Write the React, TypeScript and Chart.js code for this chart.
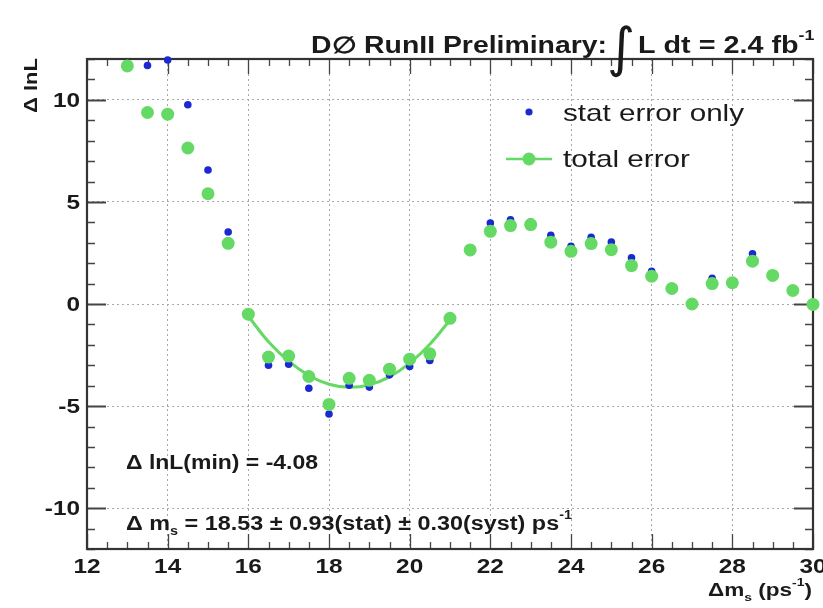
import React, { useEffect, useRef } from "react";
import { Chart, registerables } from "chart.js";

Chart.register(...registerables);

// ---- data ----
const massValues = [13, 13.5, 14, 14.5, 15, 15.5, 16, 16.5, 17, 17.5, 18, 18.5, 19, 19.5, 20, 20.5, 21, 21.5, 22, 22.5, 23, 23.5, 24, 24.5, 25, 25.5, 26, 26.5, 27, 27.5, 28, 28.5, 29, 29.5, 30];
const statErrorOnly = [11.66, 11.68, 11.95, 9.76, 6.56, 3.53, -0.5, -3.0, -2.95, -4.13, -5.39, -3.98, -4.07, -3.47, -3.06, -2.77, -0.72, 2.72, 3.97, 4.12, 4.02, 3.36, 2.83, 3.27, 3.04, 2.26, 1.6, 0.8, 0.03, 1.26, 1.1, 2.46, 1.48, 0.72, 0.0];
const totalError = [11.66, 9.38, 9.3, 7.64, 5.4, 2.97, -0.5, -2.6, -2.55, -3.55, -4.92, -3.64, -3.74, -3.19, -2.7, -2.44, -0.7, 2.65, 3.56, 3.84, 3.89, 3.03, 2.58, 2.96, 2.66, 1.88, 1.36, 0.76, 0.0, 1.0, 1.04, 2.1, 1.4, 0.66, -0.02];
const fitMass = [16, 16.5, 17, 17.5, 18, 18.5, 19, 19.5, 20, 20.5, 21];
const fitValues = [-0.6, -1.85, -2.8, -3.5, -3.93, -4.08, -3.96, -3.57, -2.9, -1.97, -0.78];
const xTicks = [12, 14, 16, 18, 20, 22, 24, 26, 28, 30];
const yTicks = [-10, -5, 0, 5, 10];
const xRange = [12, 30];
const yRange = [-12, 12];

const GREEN = "#64da64";
const BLUE = "#1a2ad0";
const FONT = '"Liberation Sans", Arial, Helvetica, sans-serif';
const SX = 1.25;

type Seg = [string, "n" | "sub" | "sup"];

function drawRich(
  ctx: CanvasRenderingContext2D,
  segs: Seg[],
  x: number,
  y: number,
  size: number,
  weight: string,
  opts: { align?: "left" | "right" | "center"; width?: number; sx?: number; color?: string } = {}
) {
  ctx.save();
  const parts = segs.map(([t, k]) => {
    const s = k === "n" ? size : size * 0.62;
    ctx.font = `${weight} ${s}px ${FONT}`;
    return { t, k, s, w: ctx.measureText(t).width };
  });
  const natural = parts.reduce((a, p) => a + p.w, 0);
  const sx = opts.width ? opts.width / natural : opts.sx ?? SX;
  const total = natural * sx;
  const align = opts.align ?? "left";
  const x0 = align === "left" ? x : align === "right" ? x - total : x - total / 2;
  ctx.translate(x0, y);
  ctx.scale(sx, 1);
  ctx.fillStyle = opts.color ?? "#1a1a1a";
  ctx.textAlign = "left";
  ctx.textBaseline = "alphabetic";
  let cx = 0;
  for (const p of parts) {
    ctx.font = `${weight} ${p.s}px ${FONT}`;
    const dy = p.k === "sub" ? size * 0.25 : p.k === "sup" ? -size * 0.55 : 0;
    ctx.fillText(p.t, cx, dy);
    cx += p.w;
  }
  ctx.restore();
}

const overlayPlugin = {
  id: "rootOverlay",
  beforeDatasetsDraw(chart: any) {
    const ctx: CanvasRenderingContext2D = chart.ctx;
    const { left, right, top, bottom } = chart.chartArea;
    const xs = chart.scales.x;
    const ys = chart.scales.y;
    ctx.save();
    ctx.strokeStyle = "#444";
    for (let v = xRange[0]; v <= xRange[1] + 1e-9; v += 0.5) {
      const px = Math.round(xs.getPixelForValue(v)) + 0.5;
      const major = Math.abs(v / 2 - Math.round(v / 2)) < 1e-9;
      const len = major ? 15 : 7;
      ctx.lineWidth = 1.3;
      ctx.beginPath();
      ctx.moveTo(px, bottom);
      ctx.lineTo(px, bottom - len);
      ctx.moveTo(px, top);
      ctx.lineTo(px, top + len);
      ctx.stroke();
    }
    for (let v = yRange[0]; v <= yRange[1] + 1e-9; v += 1) {
      const py = Math.round(ys.getPixelForValue(v)) + 0.5;
      const major = Math.abs(v / 5 - Math.round(v / 5)) < 1e-9;
      const len = major ? 19 : 8;
      ctx.lineWidth = major ? 2 : 1.3;
      ctx.beginPath();
      ctx.moveTo(left, py);
      ctx.lineTo(left + len, py);
      ctx.moveTo(right, py);
      ctx.lineTo(right - len, py);
      ctx.stroke();
    }
    ctx.lineWidth = 2.2;
    ctx.strokeStyle = "#333";
    ctx.strokeRect(left, top, right - left, bottom - top);
    ctx.restore();
  },
  afterDraw(chart: any) {
    const ctx: CanvasRenderingContext2D = chart.ctx;
    const xs = chart.scales.x;
    const ys = chart.scales.y;
    const { left, bottom } = chart.chartArea;

    for (const v of xTicks) {
      drawRich(ctx, [[String(v), "n"]], xs.getPixelForValue(v), bottom + 24, 19.5, "bold", { align: "center" });
    }
    for (const v of yTicks) {
      drawRich(ctx, [[String(v), "n"]], left - 7, ys.getPixelForValue(v) + 7, 19.5, "bold", { align: "right" });
    }

    // title
    drawRich(ctx, [["D\u2205 RunII Preliminary:", "n"]], 311, 53, 23, "bold", { width: 296 });
    ctx.save();
    ctx.font = `normal 54px "DejaVu Sans", ${FONT}`;
    ctx.fillStyle = "#1a1a1a";
    ctx.textBaseline = "alphabetic";
    ctx.fillText("\u222B", 607, 66);
    ctx.restore();
    drawRich(ctx, [["L dt = 2.4 fb", "n"], ["-1", "sup"]], 638, 53, 23, "bold", { sx: SX });

    // axis titles
    drawRich(ctx, [["\u0394m", "n"], ["s", "sub"], [" (ps", "n"], ["-1", "sup"], [")", "n"]], 812, 596, 19, "bold", { align: "right", width: 104 });
    ctx.save();
    ctx.translate(37, 113);
    ctx.rotate(-Math.PI / 2);
    drawRich(ctx, [["\u0394 lnL", "n"]], 0, 0, 18, "bold", { width: 55 });
    ctx.restore();

    // annotations
    drawRich(ctx, [["\u0394 lnL(min) = -4.08", "n"]], 126, 469, 19.5, "bold", { width: 192 });
    drawRich(
      ctx,
      [["\u0394 m", "n"], ["s", "sub"], [" = 18.53 \u00B1 0.93(stat) \u00B1 0.30(syst) ps", "n"], ["-1", "sup"]],
      126,
      530,
      19.5,
      "bold",
      { width: 446 }
    );

    // legend
    ctx.save();
    ctx.fillStyle = BLUE;
    ctx.beginPath();
    ctx.arc(529, 112, 3.6, 0, Math.PI * 2);
    ctx.fill();
    ctx.strokeStyle = GREEN;
    ctx.lineWidth = 2.5;
    ctx.beginPath();
    ctx.moveTo(506, 159);
    ctx.lineTo(552, 159);
    ctx.stroke();
    ctx.fillStyle = GREEN;
    ctx.beginPath();
    ctx.arc(529, 159, 6.5, 0, Math.PI * 2);
    ctx.fill();
    ctx.restore();
    drawRich(ctx, [["stat error only", "n"]], 563, 121, 24, "normal", { width: 181 });
    drawRich(ctx, [["total error", "n"]], 563, 167, 24, "normal", { width: 127 });
  },
};

export default function App() {
  const ref = useRef<HTMLCanvasElement | null>(null);
  useEffect(() => {
    if (!ref.current) return;
    const chart = new Chart(ref.current, {
      type: "scatter",
      data: {
        datasets: [
          {
            label: "fit",
            data: fitMass.map((x, i) => ({ x, y: fitValues[i] })),
            showLine: true,
            borderColor: GREEN,
            borderWidth: 3,
            pointRadius: 0,
            tension: 0.4,
            fill: false,
            order: 2,
          } as any,
          {
            label: "stat error only",
            data: massValues.map((x, i) => ({ x, y: statErrorOnly[i] })),
            backgroundColor: BLUE,
            borderWidth: 0,
            pointRadius: 3.8,
            clip: false,
            order: 1,
          } as any,
          {
            label: "total error",
            data: massValues.map((x, i) => ({ x, y: totalError[i] })),
            backgroundColor: GREEN,
            borderWidth: 0,
            pointRadius: 6.5,
            clip: false,
            order: 0,
          } as any,
        ],
      },
      options: {
        animation: false,
        responsive: false,
        maintainAspectRatio: false,
        devicePixelRatio: 1,
        layout: { padding: { left: 0, right: 10, top: 59, bottom: 0 } },
        plugins: { legend: { display: false }, tooltip: { enabled: false }, title: { display: false } },
        scales: {
          x: {
            type: "linear",
            min: xRange[0],
            max: xRange[1],
            ticks: { display: false, stepSize: 2 },
            afterBuildTicks: (s: any) => {
              s.ticks = xTicks.map((v) => ({ value: v }));
            },
            afterFit: (s: any) => {
              s.height = 59;
            },
            grid: { color: "#a8a8a8", lineWidth: 1, drawTicks: false },
            border: { display: false, dash: [2, 3] },
          },
          y: {
            type: "linear",
            min: yRange[0],
            max: yRange[1],
            ticks: { display: false },
            afterBuildTicks: (s: any) => {
              s.ticks = yTicks.map((v) => ({ value: v }));
            },
            afterFit: (s: any) => {
              s.width = 87;
            },
            grid: { color: "#a8a8a8", lineWidth: 1, drawTicks: false },
            border: { display: false, dash: [2, 3] },
          },
        },
      } as any,
      plugins: [overlayPlugin],
    });
    return () => chart.destroy();
  }, []);
  return (
    <div style={{ position: "absolute", left: 0, top: 0, width: 823, height: 608, background: "#fff" }}>
      <canvas ref={ref} width={823} height={608} style={{ display: "block" }} />
    </div>
  );
}
